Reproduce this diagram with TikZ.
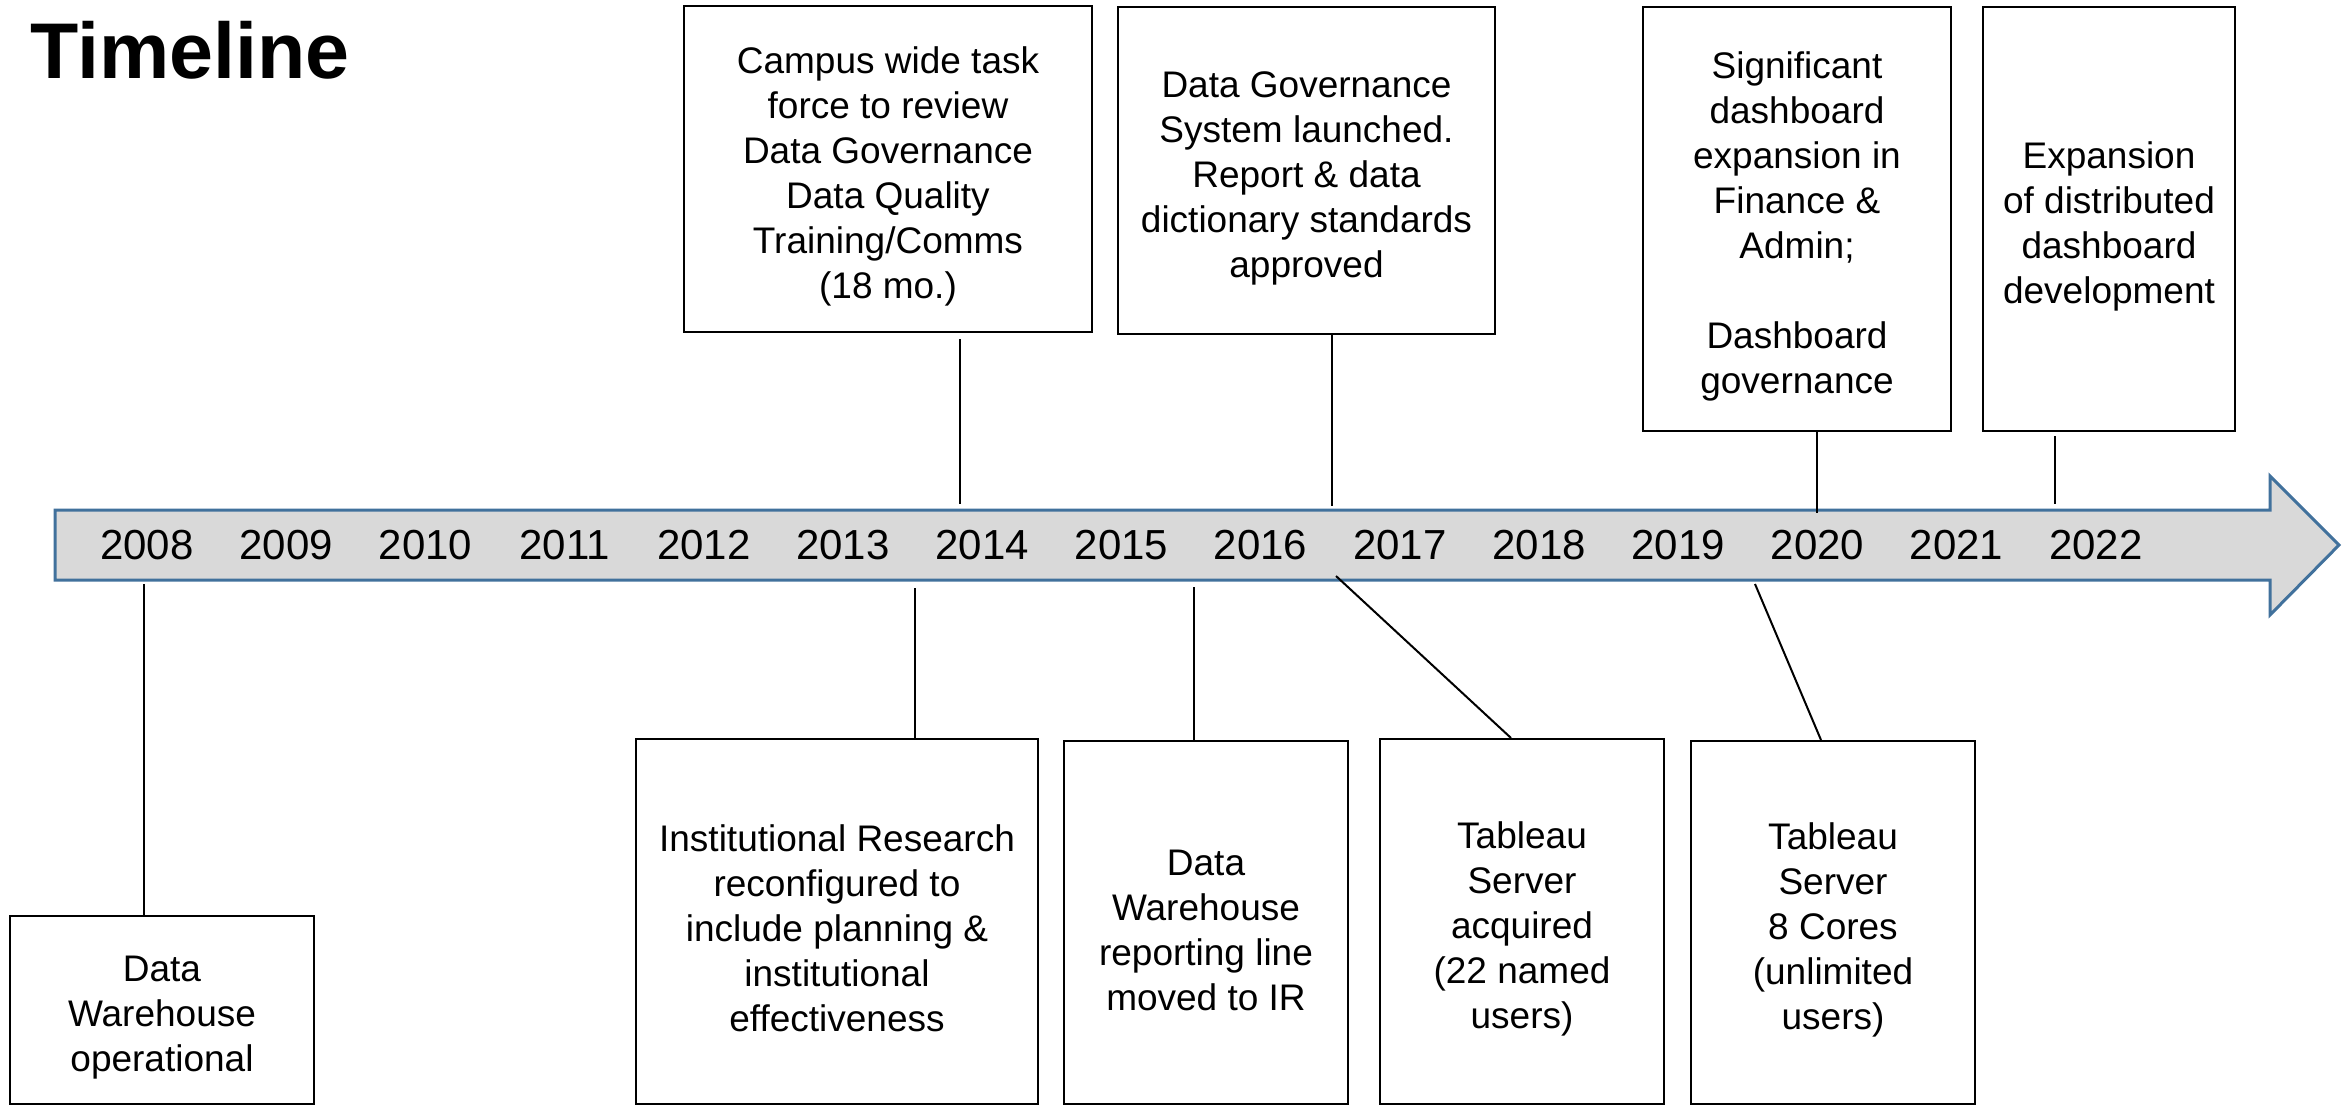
\documentclass[tikz,border=0pt]{standalone}
\usepackage{fontspec}
\setmainfont{Liberation Sans}
\usetikzlibrary{calc}
\definecolor{arrowfill}{HTML}{D9D9D9}
\definecolor{arrowline}{HTML}{41719C}
\newcommand{\firstln}{\rule{0pt}{41pt}}
\begin{document}
\begin{tikzpicture}[x=1pt,y=-1pt,
  evbox/.style={draw=black, line width=2pt, inner sep=0pt, align=center,
    font=\fontsize{37}{45}\selectfont},
  conn/.style={draw=black, line width=2pt},
  yearlbl/.style={inner sep=0pt, font=\fontsize{42}{50}\selectfont}]
\useasboundingbox (0,0) rectangle (2346,1106);
\fill[white] (0,0) rectangle (2346,1106);
% title
\node[anchor=base west, inner sep=0pt, font=\bfseries\fontsize{79}{90}\selectfont] (title) at (30,78) {Timeline};
% timeline arrow
\draw[fill=arrowfill, draw=arrowline, line width=3pt, line join=miter]
  (55,510) -- (2270,510) -- (2270,476) -- (2339,545) -- (2270,615) -- (2270,580) -- (55,580) -- cycle;
\foreach \yr [count=\i from 0] in {2008,2009,2010,2011,2012,2013,2014,2015,2016,2017,2018,2019,2020,2021,2022}
  \node[yearlbl] (y\yr) at ({147+139.2*\i},545) {\yr};
% top boxes
\node[evbox, minimum width=408pt, minimum height=326pt] (t1) at (888,169)
  {\firstln Campus wide task\\force to review\\Data Governance\\Data Quality\\Training/Comms\\(18 mo.)};
\node[evbox, minimum width=377pt, minimum height=327pt] (t2) at (1306.5,170.5)
  {\firstln Data Governance\\System launched.\\Report \& data\\dictionary standards\\approved};
\node[evbox, minimum width=308pt, minimum height=424pt] (t3) at (1797,219)
  {\firstln Significant\\dashboard\\expansion in\\Finance \&\\Admin;\\[45pt]Dashboard\\governance};
\node[evbox, minimum width=252pt, minimum height=424pt] (t4) at (2109,219)
  {\firstln Expansion\\of distributed\\dashboard\\development};
% bottom boxes
\node[evbox, minimum width=304pt, minimum height=188pt] (b1) at (162,1010)
  {\firstln Data\\Warehouse\\operational};
\node[evbox, minimum width=402pt, minimum height=365pt] (b2) at (837,921.5)
  {\firstln Institutional Research\\reconfigured to\\include planning \&\\institutional\\effectiveness};
\node[evbox, minimum width=284pt, minimum height=363pt] (b3) at (1206,922.5)
  {\firstln Data\\Warehouse\\reporting line\\moved to IR};
\node[evbox, minimum width=284pt, minimum height=365pt] (b4) at (1522,921.5)
  {\firstln Tableau\\Server\\acquired\\(22 named\\users)};
\node[evbox, minimum width=284pt, minimum height=363pt] (b5) at (1833,922.5)
  {\firstln Tableau\\Server\\8 Cores\\(unlimited\\users)};
% connector ends on the arrow
\coordinate (a1) at (960,504);
\coordinate (a2) at (1332,506);
\coordinate (a3) at (1817,513);
\coordinate (a4) at (2055,504);
\coordinate (c1) at (144,584);
\coordinate (c2) at (915,588);
\coordinate (c3) at (1194,587);
\coordinate (c4) at (1336,576);
\coordinate (c5) at (1755,584);
% connectors
\draw[conn] ($(t1.south -| a1)+(0,6)$) -- (a1);
\draw[conn] (t2.south -| a2) -- (a2);
\draw[conn] (t3.south -| a3) -- (a3);
\draw[conn] ($(t4.south -| a4)+(0,4)$) -- (a4);
\draw[conn] (c1) -- (c1 |- b1.north);
\draw[conn] (c2) -- (c2 |- b2.north);
\draw[conn] (c3) -- (c3 |- b3.north);
\draw[conn] (c4) -- ($(b4.north)+(-11,0)$);
\draw[conn] (c5) -- ($(b5.north)+(-12,0)$);
\end{tikzpicture}
\end{document}
